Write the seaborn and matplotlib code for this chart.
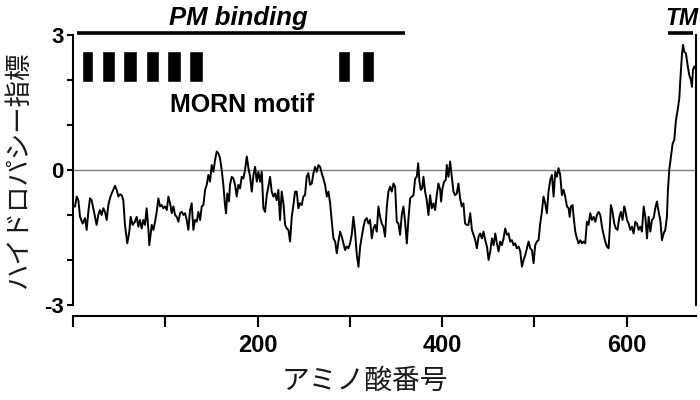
import matplotlib
matplotlib.use('Agg')
import matplotlib.pyplot as plt
import seaborn as sns

# Hydropathy profile (residue number vs. index)
residue = [
    1, 2.2, 4, 5.8, 7.6, 10.5, 13, 14.8, 16.6, 18.4, 20.2, 22.7, 25.6, 27.4, 29.2, 31, 32.9, 34.7, 36.5, 38.3,
    40, 41.9, 43.7, 45.5, 47.3, 49.1, 50.9, 52.7, 54.5, 56.3, 58.8, 61, 62.5, 64.6, 67.1, 69, 70.8, 72.6, 74.4, 76.2,
    78, 79.8, 81.6, 82.7,
    85.3, 87.1, 88.9, 90.7, 92.5, 94.3, 96.1, 97.9, 99.7, 101.6, 103.4, 105.2, 107, 108.8, 110.6, 112.4, 114.2, 116, 117.8, 119.6,
    121.4, 123.2, 125, 126.8, 128.6, 130.4, 132.2, 134, 135.8, 137.7, 139.5, 141.3, 143.1, 144.9, 146.7, 148.5, 150.3, 152.1, 153.9, 155.7,
    157.5, 159.3, 161.1, 162.9, 164.7, 165.8, 167.2, 169, 170.1,
    172, 173.8, 175.6, 177.4, 179.2, 181, 182.8, 184.6, 186.4, 188.3, 190.1, 191.9, 193.7, 195.5, 197.3, 199.1, 200.9, 202.7, 204.5, 206.3,
    208.1, 209.9, 211.7, 213.5, 215.3, 217.1, 218.9, 220.7, 222.5, 224.3, 226.1, 228, 229.8, 231.6, 233.4, 235.2, 237, 238.8, 240.6, 242.4,
    244.2, 246, 247.8, 249.6, 251.4, 253.2, 255, 256.8,
    258.7, 260.5, 262.3, 264.1, 265.9, 267.7, 269.5, 271.3, 273.1, 275, 276.8, 278.6, 280.4, 282.2, 284, 285.8, 287.6, 289.4, 291.2, 293,
    294.8, 296.6, 298.4, 300.2, 302, 303.8, 305.6, 307.5, 309.3, 311.1, 312.9, 314.7, 316.5, 318.3, 320.1, 321.9, 323.7, 325.5, 327.3, 329.1,
    330.9, 332.7, 334.5, 336.3, 338.1, 339.9, 341.7,
    343.6, 345.4, 347.2, 349, 350.8, 352.6, 354.4, 356.2, 358, 359.8, 361.7, 363.5, 365.3, 367.1, 368.9, 370.7, 372.5, 374, 375.4, 376.8,
    378.3, 379.7, 381.5, 383.3, 385.1, 386.9, 388.7, 390.5, 392.3, 394.1, 395.9, 397.8, 398.8, 400.3, 402.1, 403.9, 405, 406.8, 408.6, 410.4,
    412.2, 414, 415.8, 417.6, 419.4, 421.2, 423, 424.8, 426.6, 428.4,
    430.4, 432.2, 434, 435.8, 437.6, 439.4, 441.2, 443, 444.8, 446.6, 448.5, 450.3, 452.1, 453.9, 455.7, 457.5, 459.3, 461.1, 462.9, 464.7,
    466.5, 468.3, 470.1, 471.9, 473.7, 475.5, 477.3, 479.1, 480.9, 482.8, 484.6, 486.4, 488.2, 490, 491.8, 493.6, 495.4, 497.2, 499, 500.8,
    502.6, 504.4, 506.2, 508, 509.8, 511.6, 513.4, 515.2,
    517.1, 518.9, 520.7, 522.5, 524.3, 526.1, 527.9, 529.7, 531.5, 533.3, 535.2, 537, 538.1, 539.5, 541.3, 542.4, 544.2, 546, 547.8, 549.6,
    551.4, 553.2, 555, 556.8, 558.6, 560.4, 562.2, 564.1, 565.9, 567.7, 569.5, 571.3, 573.1, 574.9, 576.7, 578.5, 580.3, 581.4, 582.8, 584.6,
    586.4, 588.2, 590, 591.8, 593.6, 595.4, 597.3,
    598.4, 600.2, 602, 603.8, 605.6, 607.4, 609.2, 611, 612.8, 614.6, 616.4, 618.3, 620.1, 621.9, 623.7, 625.5, 627.3, 629.1, 630.9, 632.7,
    634.5, 636.3, 638.1, 639.9, 641.7, 643.5, 644.6, 646, 647.9, 649.7, 651.5, 653.3, 655.1, 656.9, 658, 659.8, 660.9, 662.3, 664.1, 665.9,
    667.7, 669.5, 670.6, 671.7, 673.1, 674.2,
]
hydropathy = [
    -0.81, -0.81, -0.59, -0.67, -1.04, -1.19, -1.07, -1.33, -0.93, -0.63, -0.67, -0.93, -1.22, -1.0, -0.89, -1.0, -0.85, -0.93, -1.11, -0.78,
    -0.63, -0.52, -0.44, -0.35, -0.44, -0.59, -0.54, -0.56, -0.67, -1.22, -1.63, -1.37, -1.04, -1.22, -1.15, -1.04, -1.26, -1.11, -1.30, -1.11,
    -1.22, -0.85, -1.30, -1.67,
    -1.22, -1.33, -1.15, -0.93, -0.63, -0.81, -0.78, -0.85, -0.81, -0.89, -0.59, -0.74, -0.96, -0.81, -1.0, -1.04, -1.15, -0.96, -0.93, -1.0,
    -0.96, -1.11, -1.33, -0.89, -0.74, -1.33, -1.11, -1.15, -0.93, -1.11, -0.81, -0.78, -0.44, -0.33, -0.11, -0.26, 0.11, -0.04, 0.22, 0.41,
    0.37, 0.26, 0.0, -0.33, -0.78, -0.96, -0.52, -0.70, -0.33,
    -0.15, -0.19, -0.33, -0.59, -0.33, -0.41, -0.15, -0.19, 0.0, 0.30, 0.04, -0.15, -0.48, -0.11, 0.07, -0.26, -0.04, -0.26, -0.04, -0.85,
    -0.93, -0.56, -0.37, -0.15, -0.48, -0.59, -0.52, -0.67, -0.44, -1.11, -0.48, -0.74, -1.22, -1.30, -1.33, -1.59, -1.04, -0.78, -0.48, -0.48,
    -0.85, -0.74, -0.78, -0.59, -0.56, -0.15, -0.07, -0.33,
    -0.30, -0.07, 0.07, -0.04, 0.11, 0.07, -0.07, -0.19, -0.33, -0.59, -0.48, -0.74, -1.15, -1.52, -1.59, -1.85, -1.59, -1.37, -1.48, -1.63,
    -1.78, -1.70, -1.74, -1.63, -1.44, -1.04, -1.37, -1.89, -2.15, -1.70, -1.48, -1.26, -1.11, -1.07, -1.19, -1.11, -1.52, -1.30, -1.22, -1.37,
    -0.81, -1.04, -1.19, -1.26, -1.48, -0.85, -0.48,
    -0.37, -0.48, -0.30, -0.37, -1.15, -1.19, -1.44, -1.0, -0.81, -1.15, -1.63, -1.07, -0.63, -0.59, -0.56, -0.19, -0.15, 0.15, -0.26, -0.44,
    -0.41, -0.15, -0.48, -0.67, -1.0, -0.56, -0.85, -0.74, -0.89, -0.56, -0.30, -0.44, -0.70, -0.41, -0.26, -0.22, 0.11, -0.15, 0.19, -0.15,
    -0.48, -0.56, -0.52, -0.30, -0.63, -0.81, -0.74, -1.19, -1.22, -1.22,
    -0.96, -1.33, -1.44, -1.56, -1.74, -1.48, -1.41, -1.52, -1.37, -1.56, -1.70, -2.0, -1.81, -1.52, -1.67, -1.41, -1.63, -1.81, -1.59, -1.67,
    -1.52, -1.30, -1.44, -1.41, -1.59, -1.56, -1.67, -1.63, -1.74, -1.70, -1.81, -2.15, -2.0, -1.89, -1.74, -1.59, -1.74, -1.78, -2.07, -1.67,
    -1.59, -1.56, -1.19, -0.93, -0.59, -0.74, -0.96, -0.48,
    -0.22, -0.11, -0.59, -0.04, -0.15, 0.04, -0.11, -0.56, -0.44, -0.59, -0.81, -0.85, -1.04, -0.81, -0.78, -1.04, -1.37, -1.52, -1.63, -1.56,
    -1.63, -1.59, -1.63, -1.15, -1.22, -0.96, -1.11, -1.04, -1.15, -1.0, -0.93, -1.0, -1.26, -1.44, -1.59, -1.70, -1.74, -1.37, -0.78, -0.93,
    -1.19, -1.30, -1.33, -1.07, -0.93, -1.11, -0.81,
    -0.89, -1.11, -1.19, -1.33, -1.26, -1.41, -1.15, -1.19, -1.33, -1.26, -1.37, -0.81, -1.04, -1.52, -1.04, -1.37, -1.11, -1.07, -0.85, -0.70,
    -0.93, -1.11, -1.56, -1.41, -1.33, -1.04, -0.44, 0.0, 0.30, 0.59, 0.67, 1.11, 1.33, 1.59, 2.0, 2.56, 2.78, 2.63, 2.59, 2.33,
    2.11, 2.0, 1.85, 2.22, 2.30, 2.26,
]
assert len(residue) == len(hydropathy)

# domain annotations (residue ranges)
pm_binding = (4, 360)
tm_region = (645, 672)
morn_starts = [10, 31, 54, 79, 102, 126, 287, 313]
morn_ends = [22, 46, 69, 93, 117, 141, 300, 326]

x_ticks = [0, 100, 200, 300, 400, 500, 600]
x_ticklabels = ['', '', '200', '', '400', '', '600']
y_ticks = [-3, -2, -1, 0, 1, 2, 3]
y_ticklabels = ['-3', '', '', '0', '', '', '3']

sns.set_style('ticks')
plt.rcParams['font.family'] = ['Liberation Sans', 'Noto Sans CJK JP']
plt.rcParams['axes.linewidth'] = 1.5
plt.rcParams['text.color'] = 'black'

fig = plt.figure(figsize=(7, 4), dpi=100)
ax = fig.add_axes([73 / 700, 1 - 305 / 400, 623 / 700, 270 / 400])

# spines first: moving a spine resets the tick labels
ax.spines['top'].set_visible(False)
ax.spines['bottom'].set_position(('outward', 8))
for side in ['left', 'bottom', 'right']:
    ax.spines[side].set_color('black')
    ax.spines[side].set_linewidth(1.5)

ax.axhline(0, color='#808080', lw=1.0, zorder=1)
sns.lineplot(x=residue, y=hydropathy, estimator=None, sort=False,
             color='black', lw=1.4, ax=ax, zorder=3)

# MORN motif boxes
ax.broken_barh([(s, e - s) for s, e in zip(morn_starts, morn_ends)], (1.95, 0.7),
               facecolors='black')
ax.text(183, 1.44, 'MORN motif', ha='center', va='center',
        fontsize=18, fontweight='bold', color='black')

# PM binding and TM bars above the plot
ax.plot(pm_binding, [3.04, 3.04], color='black', lw=2.6, clip_on=False, solid_capstyle='butt')
ax.plot(tm_region, [3.04, 3.04], color='black', lw=2.6, clip_on=False, solid_capstyle='butt')
ax.text(179, 3.12, 'PM binding', ha='center', va='bottom',
        fontsize=18.5, fontweight='bold', style='italic', color='black')
ax.text((tm_region[0] + tm_region[1]) / 2 + 1, 3.12, 'TM', ha='center', va='bottom',
        fontsize=16.5, fontweight='bold', style='italic', color='black')

ax.set_xlim(0, 675)
ax.set_ylim(-3, 3)
ax.tick_params(axis='x', length=8, width=1.5, pad=5, colors='black')
ax.tick_params(axis='y', length=4.5, width=1.5, pad=2, colors='black')
ax.set_xticks(x_ticks)
ax.set_xticklabels(x_ticklabels, fontweight='bold', fontsize=17)
ax.set_yticks(y_ticks)
ax.set_yticklabels(y_ticklabels, fontweight='bold', fontsize=16)

ax.set_xlabel('アミノ酸番号', fontsize=20, family=['Noto Sans CJK JP'], color='#1a1a1a')
ax.set_ylabel('ハイドロパシー指標', fontsize=19, family=['Noto Sans CJK JP'], color='#1a1a1a')
ax.xaxis.set_label_coords(0.469, -0.225)
ax.yaxis.set_label_coords(-0.066, 0.5)

fig.savefig('out.png', dpi=100)
